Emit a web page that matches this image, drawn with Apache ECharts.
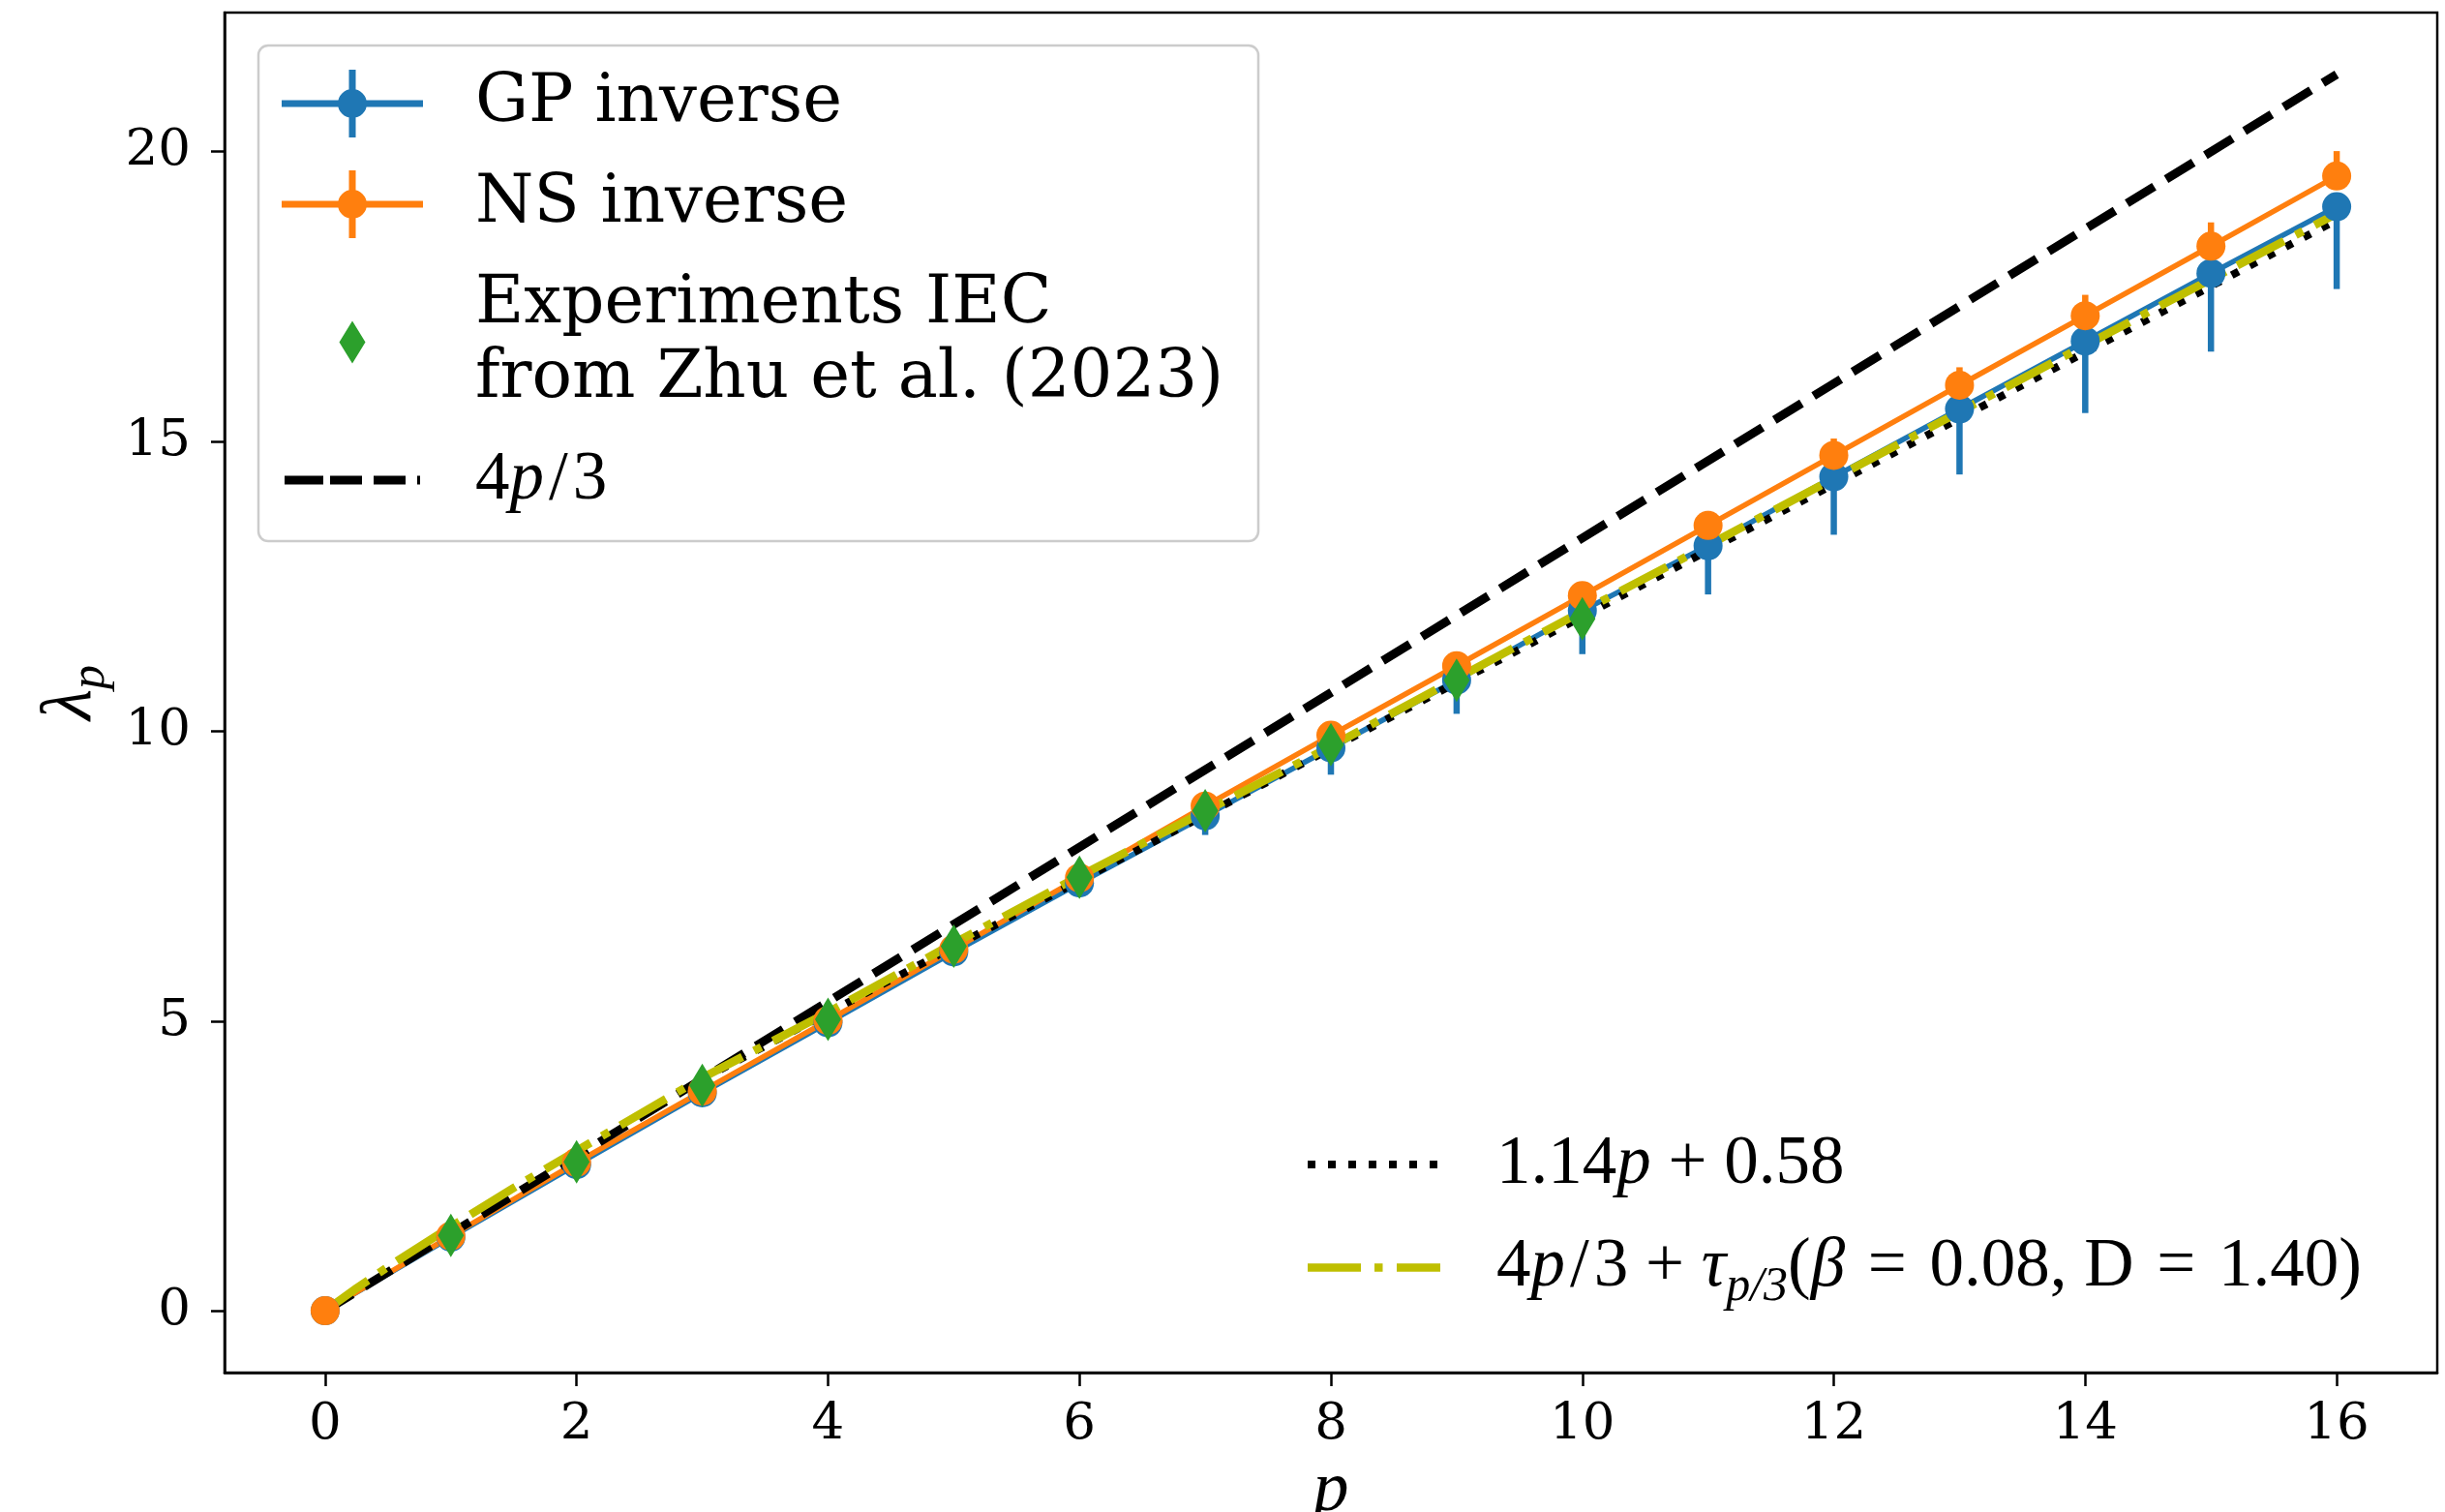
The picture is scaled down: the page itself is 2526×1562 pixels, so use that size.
<!DOCTYPE html>
<html><head><meta charset="utf-8">
<script src="https://cdn.jsdelivr.net/npm/echarts@6/dist/echarts.min.js"></script>
<style>html,body{margin:0;padding:0;background:#fff}#c{width:2526px;height:1562px}</style>
</head><body><div id="c"></div>
<script>
// ---------------- data ----------------
const pValues   = [0,1,2,3,4,5,6,7,8,9,10,11,12,13,14,15,16];
const gpInverse = [0,1.27,2.52,3.76,4.97,6.19,7.38,8.54,9.71,10.88,12.08,13.2,14.39,15.56,16.73,17.9,19.05];
const gpErrLow  = [0,0.01,0.02,0.04,0.07,0.13,0.22,0.33,0.46,0.58,0.75,0.84,1.0,1.13,1.24,1.35,1.42];
const gpErrHigh = [0,0,0,0,0,0,0,0,0,0,0,0,0,0,0,0,0];
const nsInverse = [0,1.29,2.56,3.79,5.01,6.24,7.47,8.71,9.93,11.13,12.34,13.55,14.76,15.97,17.17,18.37,19.58];
const nsErrLow  = [0,0,0,0,0,0,0,0,0,0,0,0,0,0,0,0,0];
const nsErrHigh = [0,0.03,0.05,0.06,0.08,0.09,0.1,0.12,0.15,0.18,0.21,0.25,0.29,0.31,0.36,0.41,0.43];
const expP      = [1,2,3,4,5,6,7,8,9,10];
const expValues = [1.30,2.57,3.89,5.03,6.29,7.48,8.63,9.77,10.88,11.94];
const k41P      = [0,16];
const k41Values = [0,21.333];
const fitP      = [3,16];
const fitValues = [4.0,18.82];
const modelP      = [0,0.25,0.5,1,1.5,2,3,4,5,6,7,8,9,10,11,12,13,14,15,16];
const modelValues = [0,0.39,0.76,1.45,2.12,2.76,4.02,5.15,6.34,7.5,8.62,9.74,10.91,12.07,13.21,14.36,15.51,16.66,17.8,18.93];
const xTicks = [0,2,4,6,8,10,12,14,16];
const yTicks = [0,5,10,15,20];

const NAME_GP = 'GP inverse';
const NAME_NS = 'NS inverse';
const NAME_EXP = 'Experiments IEC\nfrom Zhu et al. (2023)';
const NAME_K41 = '4p/3';
const NAME_FIT = '1.14p + 0.58';
const NAME_MODEL = '4p/3 + τp/3(β = 0.08, D = 1.40)';

// ---------------- helpers ----------------
const zip = (xs, ys) => xs.map((x, i) => [x, ys[i]]);
function errData(vals, lo, hi) { return pValues.map((p, i) => [p, vals[i] - lo[i], vals[i] + hi[i]]); }
function errRender(color) {
  return function (params, api) {
    const a = api.coord([api.value(0), api.value(1)]);
    const b = api.coord([api.value(0), api.value(2)]);
    return { type: 'line', shape: { x1: a[0], y1: a[1], x2: b[0], y2: b[1] },
             style: { stroke: color, lineWidth: 6.5 } };
  };
}
const C_BLUE = '#1f77b4', C_ORANGE = '#ff7f0e', C_GREEN = '#2ca02c', C_Y = '#bfbf00';

// legend icon paths (box 195 x 70 for legend 1, 190 x 70 for legend 2)
const corner1 = ' M0 0H0.05V0.05H0Z M194.95 69.95H195V70H194.95Z';
const iconErr = 'path://M0 31.5H146V38.5H0Z M69.5 0H76.5V70H69.5Z M58 35A15 15 0 1 1 88 35A15 15 0 1 1 58 35Z' + corner1;
const iconDiamond = 'path://M73 13L86.5 35L73 57L59.5 35Z' + corner1;
const iconDash = 'path://M3 30.5H43V39.5H3Z M50 30.5H83V39.5H50Z M95 30.5H128V39.5H95Z M140 30.5H143V39.5H140Z' + corner1;
const corner2 = ' M0 0H0.05V0.05H0Z M189.95 69.95H190V70H189.95Z';
let dots = '';
for (let k = 0; k < 7; k++) { const x0 = k * 21; dots += ' M' + x0 + ' 31H' + (x0 + 8) + 'V39H' + x0 + 'Z'; }
const iconDot = 'path://' + dots.trim() + corner2;
const iconDashDot = 'path://M0 30.75H55V39.25H0Z M69 30.75H77.5V39.25H69Z M92 30.75H137V39.25H92Z' + corner2;

const mathFont = 'Liberation Serif';
const MS = 71;
const richMath = {
  m:  { fontFamily: mathFont, fontSize: MS, lineHeight: 77, color: '#000' },
  mi: { fontFamily: mathFont, fontStyle: 'italic', fontSize: MS, lineHeight: 77, color: '#000' },
  sl: { fontFamily: mathFont, fontSize: MS, lineHeight: 77, padding: [0, 5, 0, 5], color: '#000' },
  sub:{ fontFamily: mathFont, fontStyle: 'italic', fontSize: 50, lineHeight: 40, padding: [40, 0, 0, 0], color: '#000' }
};
const sp = '\u2004'; // slightly wider space, like math spacing

const chart = echarts.init(document.getElementById('c'), null, { renderer: 'canvas' });
const option = {
  backgroundColor: '#ffffff',
  animation: false,
  grid: { left: 232, right: 8, top: 13, bottom: 144, show: true, borderColor: '#000', borderWidth: 2.5,
          containLabel: false, outerBoundsMode: 'none' },
  xAxis: {
    type: 'value', min: -0.8, max: 16.8,
    axisLine: { show: true, onZero: false, lineStyle: { color: '#000', width: 2.5 } },
    axisTick: { show: true, inside: false, length: 14, lineStyle: { color: '#000', width: 2.5 }, customValues: xTicks },
    axisLabel: { show: true, customValues: xTicks, fontFamily: 'DejaVu Serif', fontSize: 53, color: '#000', margin: 28 },
    splitLine: { show: false },
    name: '{i|p}', nameLocation: 'middle', nameGap: 68,
    nameTextStyle: { rich: { i: { fontFamily: mathFont, fontStyle: 'italic', fontSize: 74, color: '#000' } } }
  },
  yAxis: {
    type: 'value', min: -1.067, max: 22.4,
    axisLine: { show: true, onZero: false, lineStyle: { color: '#000', width: 2.5 } },
    axisTick: { show: true, inside: false, length: 14, lineStyle: { color: '#000', width: 2.5 }, customValues: yTicks },
    axisLabel: { show: true, customValues: yTicks, fontFamily: 'DejaVu Serif', fontSize: 53, color: '#000', margin: 35 },
    splitLine: { show: false },
    name: '{l|λ}{s|p}', nameLocation: 'middle', nameGap: 112, nameRotate: 90,
    nameTextStyle: { rich: {
      l: { fontFamily: mathFont, fontStyle: 'italic', fontSize: 74, lineHeight: 77, color: '#000' },
      s: { fontFamily: mathFont, fontStyle: 'italic', fontSize: 50, lineHeight: 40, padding: [40, 0, 0, 0], color: '#000' } } }
  },
  legend: [
    {
      orient: 'vertical', left: 291, top: 68.5, padding: 0, itemGap: 27,
      itemWidth: 195, itemHeight: 70, selectedMode: false,
      itemStyle: { borderWidth: 0 },
      textStyle: { fontFamily: 'DejaVu Serif', fontSize: 69, lineHeight: 77, color: '#000', rich: richMath },
      data: [
        { name: NAME_GP, icon: iconErr },
        { name: NAME_NS, icon: iconErr },
        { name: NAME_EXP, icon: iconDiamond },
        { name: NAME_K41, icon: iconDash }
      ],
      formatter: function (name) {
        if (name === NAME_K41) return '{m|4}{mi|p}{sl|/}{m|3}';
        return name;
      }
    },
    {
      orient: 'vertical', left: 1351, top: 1164.5, padding: 0, itemGap: 23,
      itemWidth: 190, itemHeight: 70, selectedMode: false,
      itemStyle: { borderWidth: 0 },
      textStyle: { fontFamily: mathFont, fontSize: MS, lineHeight: 77, color: '#000', rich: richMath },
      data: [
        { name: NAME_FIT, icon: iconDot },
        { name: NAME_MODEL, icon: iconDashDot }
      ],
      formatter: function (name) {
        if (name === NAME_FIT) return '{m|1.14}{mi|p}{m| + 0.58}';
        return '{m|4}{mi|p}{sl|/}{m|3 + }{mi|τ}{sub|p/3}{m|(}{mi|β}{m|' + sp + '=' + sp + '0.08, D' + sp + '=' + sp + '1.40)}';
      }
    }
  ],
  graphic: [
    { type: 'rect', z: 3, shape: { x: 267, y: 47, width: 1033, height: 512, r: 10 },
      style: { fill: 'rgba(255,255,255,0.8)', stroke: '#cccccc', lineWidth: 2.5 }, silent: true }
  ],
  series: [
    { type: 'custom', name: 'gpErr', renderItem: errRender(C_BLUE), data: errData(gpInverse, gpErrLow, gpErrHigh),
      encode: { x: 0, y: [1, 2] }, z: 2, silent: true },
    { type: 'line', name: NAME_GP, data: zip(pValues, gpInverse), symbol: 'circle', symbolSize: 30, showSymbol: true,
      itemStyle: { color: C_BLUE, borderWidth: 0 }, lineStyle: { color: C_BLUE, width: 5.5 }, z: 2, silent: true },
    { type: 'custom', name: 'nsErr', renderItem: errRender(C_ORANGE), data: errData(nsInverse, nsErrLow, nsErrHigh),
      encode: { x: 0, y: [1, 2] }, z: 2, silent: true },
    { type: 'line', name: NAME_NS, data: zip(pValues, nsInverse), symbol: 'circle', symbolSize: 30, showSymbol: true,
      itemStyle: { color: C_ORANGE, borderWidth: 0 }, lineStyle: { color: C_ORANGE, width: 5.5 }, z: 2, silent: true },
    { type: 'line', name: NAME_K41, data: zip(k41P, k41Values), symbol: 'none',
      itemStyle: { color: '#000' }, lineStyle: { color: '#000', width: 9, type: [33, 14.5], cap: 'butt' }, z: 2, silent: true },
    { type: 'line', name: NAME_FIT, data: zip(fitP, fitValues), symbol: 'none',
      itemStyle: { color: '#000' }, lineStyle: { color: '#000', width: 8, type: [8, 13], cap: 'butt' }, z: 2, silent: true },
    { type: 'line', name: NAME_MODEL, data: zip(modelP, modelValues), symbol: 'none',
      itemStyle: { color: C_Y }, lineStyle: { color: C_Y, width: 8.5, type: [54.4, 13.6, 8.5, 13.6], cap: 'butt' }, z: 2, silent: true },
    { type: 'scatter', name: NAME_EXP, data: zip(expP, expValues), symbol: 'diamond', symbolSize: [27, 45],
      itemStyle: { color: C_GREEN, opacity: 1 }, z: 2, silent: true }
  ]
};
chart.setOption(option);
</script>
</body></html>
